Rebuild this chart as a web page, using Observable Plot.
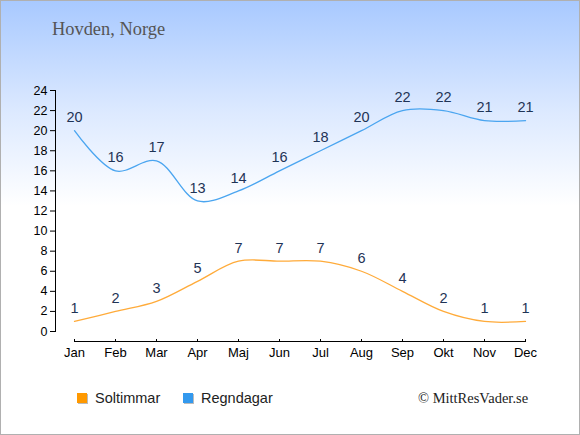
<!DOCTYPE html>
<html>
<head>
<meta charset="utf-8">
<script src="https://cdn.jsdelivr.net/npm/d3@7"></script>
<script src="https://cdn.jsdelivr.net/npm/@observablehq/plot@0.6"></script>
<style>
  html, body { margin: 0; padding: 0; background: #fff; }
  #chart {
    position: relative; width: 580px; height: 435px; box-sizing: border-box;
    border: 1px solid #b0b0b0;
    background: linear-gradient(to bottom, #a8c9ff 0px, #dce9ff 110px, #ffffff 205px, #ffffff 100%);
    font-family: "Liberation Sans", Arial, sans-serif; overflow: hidden;
  }
  #title { position: absolute; left: 51px; top: 18px; font-family: "Liberation Serif", "Times New Roman", serif; font-size: 18.4px; color: #555; }
  #plot { position: absolute; left: 0; top: 0; }
  .leg { position: absolute; top: 389px; font-size: 14.5px; color: #222; display: flex; align-items: center; }
  .sw { width: 10px; height: 10px; margin-right: 8px; box-shadow: 1px 1px 0 #bbb; }
  #copy { position: absolute; left: 417px; top: 389px; font-family: "Liberation Serif", "Times New Roman", serif; font-size: 14.5px; color: #222; }
</style>
</head>
<body>
<div id="chart">
  <div id="title">Hovden, Norge</div>
  <div id="plot"></div>
  <div class="leg" style="left:76px"><span class="sw" style="background:#ff9900"></span>Soltimmar</div>
  <div class="leg" style="left:182px"><span class="sw" style="background:#3399ee"></span>Regndagar</div>
  <div id="copy">© MittResVader.se</div>
</div>
<script>
const months = ["Jan","Feb","Mar","Apr","Maj","Jun","Jul","Aug","Sep","Okt","Nov","Dec"];
const soltimmar = [1,2,3,5,7,7,7,6,4,2,1,1];
const regndagar = [20,16,17,13,14,16,18,20,22,22,21,21];
const yTicks = [0,2,4,6,8,10,12,14,16,18,20,22,24];

const sol = months.map((m, i) => ({month: m, value: soltimmar[i]}));
const regn = months.map((m, i) => ({month: m, value: regndagar[i]}));

const chart = Plot.plot({
  width: 578,
  height: 433,
  marginLeft: 54,
  marginRight: 54,
  marginTop: 89,
  marginBottom: 103,
  style: {background: "transparent", fontFamily: "Liberation Sans, Arial, sans-serif", overflow: "visible"},
  x: {type: "point", domain: months, padding: 0, insetLeft: 19, label: null},
  y: {domain: [0, 24], ticks: yTicks, label: null},
  marks: [
    Plot.frame({anchor: "left", stroke: "#000"}),
    Plot.axisY({ticks: yTicks, tickSize: 5, tickPadding: 3, fontSize: 12.5, color: "#000", label: null}),
    Plot.ruleY([0], {x1: [months[0]], x2: [months[months.length - 1]], dy: 10, stroke: "#000"}),
    Plot.axisX({tickSize: 3, tickPadding: 5, dy: 8, fontSize: 13, color: "#000", label: null}),
    Plot.line(regn, {x: "month", y: "value", curve: "catmull-rom", stroke: "#4aa5f0", strokeWidth: 1.3}),
    Plot.line(sol, {x: "month", y: "value", curve: "catmull-rom", stroke: "#ffab3a", strokeWidth: 1.3}),
    Plot.text(regn, {x: "month", y: "value", text: d => String(d.value), dy: -13, fill: "#1f3356", fontSize: 14.5}),
    Plot.text(sol, {x: "month", y: "value", text: d => String(d.value), dy: -13, fill: "#1f3356", fontSize: 14.5})
  ]
});
document.getElementById("plot").appendChild(chart);
</script>
</body>
</html>
